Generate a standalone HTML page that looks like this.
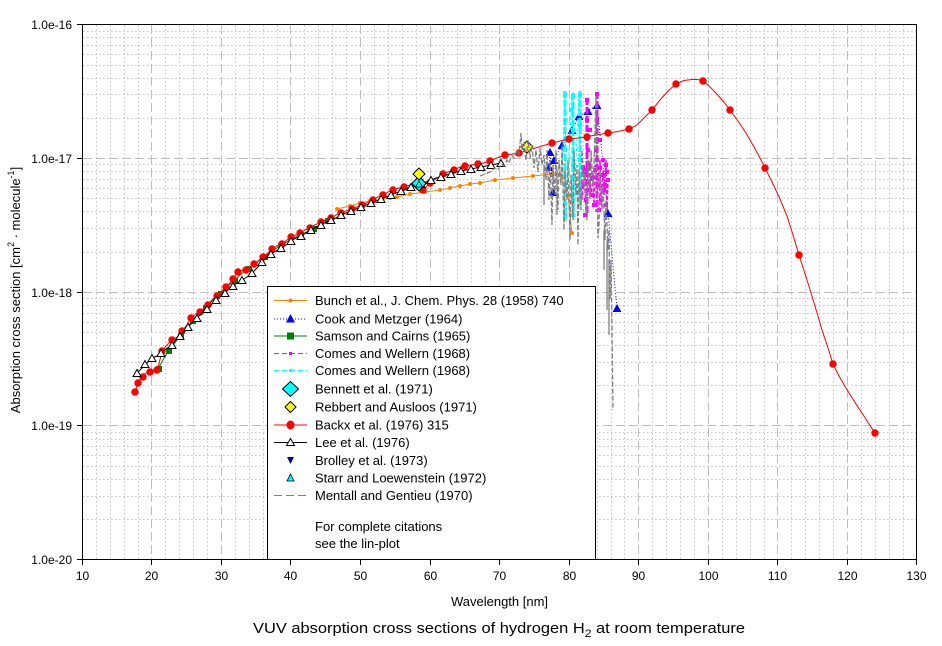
<!DOCTYPE html>
<html><head><meta charset="utf-8"><style>
html,body{margin:0;padding:0;background:#fff;}
svg{display:block;font-family:"Liberation Sans",Arial,sans-serif;}
</style></head><body>
<svg width="942" height="646" viewBox="0 0 942 646" xmlns="http://www.w3.org/2000/svg">
<defs>
<marker id="mRed" markerWidth="10" markerHeight="10" refX="5" refY="5" markerUnits="userSpaceOnUse"><circle cx="5" cy="5" r="3.7" fill="#ff0000"/></marker>
<marker id="mLee" markerWidth="12" markerHeight="12" refX="6" refY="6" markerUnits="userSpaceOnUse"><path d="M6,2.5 L10,9.5 L2,9.5 Z" fill="#fff" stroke="#000" stroke-width="1"/></marker>
<marker id="mGreen" markerWidth="8" markerHeight="8" refX="4" refY="4" markerUnits="userSpaceOnUse"><rect x="1" y="1" width="6" height="6" fill="#008000"/></marker>
<marker id="mOrange" markerWidth="6" markerHeight="6" refX="3" refY="3" markerUnits="userSpaceOnUse"><circle cx="3" cy="3" r="2" fill="#ff8000"/></marker>
<marker id="mBlue" markerWidth="12" markerHeight="12" refX="6" refY="6" markerUnits="userSpaceOnUse"><path d="M6,2 L10.5,10 L1.5,10 Z" fill="#0000ff"/></marker>
<marker id="mMag" markerWidth="6" markerHeight="6" refX="3" refY="3" markerUnits="userSpaceOnUse"><rect x="1" y="1" width="4" height="4" fill="#ff00ff"/></marker>
<marker id="mCyan" markerWidth="6" markerHeight="6" refX="3" refY="3" markerUnits="userSpaceOnUse"><rect x="1" y="1" width="4" height="4" fill="#00ffff"/></marker>
</defs>

<rect x="82.5" y="24.5" width="834" height="535" fill="#fff"/>

<path fill="none" stroke="#c4c4c4" stroke-width="1" stroke-dasharray="1.5,2.5" shape-rendering="crispEdges" d="
M96.5 25V559 M110.5 25V559 M124.5 25V559 M138.5 25V559
M165.5 25V559 M179.5 25V559 M193.5 25V559 M207.5 25V559
M235.5 25V559 M249.5 25V559 M263.5 25V559 M277.5 25V559
M304.5 25V559 M318.5 25V559 M332.5 25V559 M346.5 25V559
M374.5 25V559 M388.5 25V559 M402.5 25V559 M416.5 25V559
M443.5 25V559 M457.5 25V559 M471.5 25V559 M485.5 25V559
M513.5 25V559 M527.5 25V559 M541.5 25V559 M555.5 25V559
M583.5 25V559 M597.5 25V559 M611.5 25V559 M624.5 25V559
M652.5 25V559 M666.5 25V559 M680.5 25V559 M694.5 25V559
M722.5 25V559 M736.5 25V559 M750.5 25V559 M764.5 25V559
M791.5 25V559 M805.5 25V559 M819.5 25V559 M833.5 25V559
M861.5 25V559 M875.5 25V559 M889.5 25V559 M903.5 25V559"/>
<path fill="none" stroke="#c4c4c4" stroke-width="1" stroke-dasharray="1.5,2.5" shape-rendering="crispEdges" d="
M83 118.5H916 M83 94.5H916 M83 78.5H916 M83 65.5H916 M83 54.5H916 M83 45.5H916 M83 37.5H916 M83 31.5H916
M83 252.5H916 M83 228.5H916 M83 211.5H916 M83 198.5H916 M83 188.5H916 M83 179.5H916 M83 171.5H916 M83 164.5H916
M83 385.5H916 M83 362.5H916 M83 345.5H916 M83 332.5H916 M83 322.5H916 M83 313.5H916 M83 305.5H916 M83 298.5H916
M83 519.5H916 M83 496.5H916 M83 479.5H916 M83 466.5H916 M83 455.5H916 M83 446.5H916 M83 439.5H916 M83 432.5H916"/>
<path fill="none" stroke="#bdbdbd" stroke-width="1.3" stroke-dasharray="9,4" shape-rendering="crispEdges" d="
M151.5 25V559 M221.5 25V559 M290.5 25V559 M360.5 25V559 M430.5 25V559 M499.5 25V559
M569.5 25V559 M638.5 25V559 M708.5 25V559 M777.5 25V559 M847.5 25V559
M83 158.5H916 M83 292.5H916 M83 425.5H916"/>

<!-- Bunch (orange) -->
<polyline fill="none" stroke="#ff8000" stroke-width="1" points="337,209 350,206 360,203 370,201 380,200 390,198 397,197 410,194 425,192 440,190 450,188 460,186 470,184 480,183 495,180 513,178 533,176 552,174 560,175 568,195 572,233"/>
<polyline fill="none" stroke="none" marker-start="url(#mOrange)" marker-mid="url(#mOrange)" marker-end="url(#mOrange)" points="337,209 350,206 360,203 370,201 380,200 390,198 397,197 410,194 425,192 440,190 450,188 460,186 470,184 480,183 495,180 513,178 533,176 552,174 560,175 568,195 572,233"/>

<!-- Cook and Metzger -->
<polyline fill="none" stroke="#0000ff" stroke-width="1" stroke-dasharray="1,2" points="549,167 550,152 553,192 554,160 562,145 572,130 579,116 588,111 597,105 608,213 617,308"/>
<polyline fill="none" stroke="none" marker-start="url(#mBlue)" marker-mid="url(#mBlue)" marker-end="url(#mBlue)" points="549,167 550,152 553,192 554,160 562,145 572,130 579,116 588,111 597,105 608,213 617,308"/>

<!-- Samson and Cairns -->
<polyline fill="none" stroke="#008000" stroke-width="1" points="158,369 168,351 174,344 180,336 186,329 192,321 198,315 205,308 212,301 220,294 226,288 234,281 240,275 248,269 256,263 264,257 272,251 280,246 290,240 300,235 313,229 327,221"/>
<polyline fill="none" stroke="none" marker-start="url(#mGreen)" marker-mid="url(#mGreen)" marker-end="url(#mGreen)" points="159,369 169,351 181,336 193,321 206,308 221,294 235,281 249,269 265,257 281,246 301,235 314,229 328,221"/>

<!-- Comes magenta -->
<g stroke="#ff00ff" fill="none">
<line x1="587" y1="98" x2="587" y2="215" stroke-width="3" stroke-dasharray="7,2"/>
<line x1="597" y1="92" x2="597" y2="212" stroke-width="3" stroke-dasharray="7,2"/>
<polyline stroke-width="1.5" stroke-dasharray="4,2" points="580,175 582,200 584,165 586,210 589,160 590,195 592,170 594,205 595,165 598,190 600,160 601,205 603,170 604,195 606,160 607,210 608,178"/>
</g>
<polyline fill="none" stroke="none" marker-start="url(#mMag)" marker-mid="url(#mMag)" marker-end="url(#mMag)" points="582,185 584,172 586,200 589,165 590,190 592,178 594,205 595,170 598,185 600,168 601,200 603,175 604,190 606,165 606,205 608,180 585,215 592,195 599,210 603,160 588,150 590,130 600,140 587,100 597,94 587,120 597,120 587,170 597,160 605,185 607,172 583,168 596,150"/>

<!-- Comes cyan -->
<g stroke="#00ffff" fill="none" stroke-width="3" stroke-dasharray="7,2">
<line x1="565" y1="91" x2="565" y2="220"/>
<line x1="573" y1="93" x2="573" y2="218"/>
<line x1="580" y1="91" x2="580" y2="205"/>
</g>
<polyline fill="none" stroke="#00ffff" stroke-width="1" stroke-dasharray="3,2" points="562,175 565,92 566,222 569,150 572,92 574,220 576,160 579,92 580,210 582,170"/>
<polyline fill="none" stroke="none" marker-start="url(#mCyan)" marker-mid="url(#mCyan)" marker-end="url(#mCyan)" points="565,95 565,120 565,150 565,185 565,215 573,96 573,130 573,165 573,200 573,215 580,95 580,125 580,160 580,190 567,140 571,110"/>

<!-- Backx line -->
<polyline fill="none" stroke="#ff0000" stroke-width="1" points="135,392 138,383 142,377 146,373 150,371 154,370 158,368 162,351 167,345 172,340 177,337 182,331 187,325 191,318 196,314 201,311 206,306 210,302 214,298 218,295 222,291 226,287 230,283 233,279 236,274 240,271 245,270 250,267 254,264 258,261 263,257 267,254 272,249 277,246 282,244 287,240 291,237 296,235 300,233 305,230 310,228 315,225 321,222 326,220 331,218 336,215 341,213 346,211 352,209 357,207 362,205 367,203 373,200 378,197 383,195 388,192 393,190 399,188 404,187 410,185 423,190 430,183 437,178 443,174 448,172 454,170 460,167 465,166 471,165 478,164 484,163 490,161 497,158 505,155 519,153 552,143 569,139 587,137 590,136 608,133 618,131.5 629,129 637,125 645,117 652,110 660,100 668,91 676,84 684,80.5 692,79.5 698,79.5 703,81 709,86 716,93 723,101 730,110 738,121 746,133 754,147 760,158 765,168 772,182 780,199 787,216 793,235 799,255 807,280 815,306 822,330 828,348 833,364 839,376 846,388 854,401 862,413 869,424 875,433"/>
<polyline fill="none" stroke="none" marker-start="url(#mRed)" marker-mid="url(#mRed)" marker-end="url(#mRed)" points="135,392 138,383 143,377 150,372 157,370 162,351 172,340 182,331 191,318 200,312 208,305 217,296 226,287 233,279 238,272 246,270 254,264 263,257 272,249 282,244 291,237 300,233 310,228 321,222 331,218 341,213 352,209 362,205 373,200 383,195 393,190 404,187 423,190 430,183 443,174 454,170 465,166 478,164 490,161 505,155 519,153 552,143 569,139 587,137 608,133 629,129 652,110 676,84 703,81 730,110 765,168 799,255 833,364 875,433"/>

<!-- Lee -->
<polyline fill="none" stroke="#000" stroke-width="1" points="137,373 143,367 148,362 152,358 157,356 161,353 166,349 172,345 178,338 183,333 187,328 192,323 197,318 202,313 207,309 211,305 216,300 220,297 225,293 229,289 233,286 237,283 242,280 247,277 252,273 257,268 262,262 266,258 271,254 276,251 281,248 286,245 291,241 296,238 301,236 306,233 311,230 316,227 321,225 326,222 331,220 336,218 341,215 346,213 351,211 356,209 361,207 366,205 371,203 376,201 381,199 386,197 391,195 396,193 401,191 406,189 411,187 416,186 421,184 426,182 431,180 436,178 441,177 446,175 451,174 456,172 461,171 466,170 471,169 476,168 481,167 486,166 491,165 496,164 501,163"/>
<polyline fill="none" stroke="none" marker-start="url(#mLee)" marker-mid="url(#mLee)" marker-end="url(#mLee)" points="137,373 145,364 152,358 161,353 172,345 180,336 188,327 197,318 207,309 216,300 225,293 233,286 242,280 252,273 262,262 271,254 281,248 291,241 301,236 311,230 321,225 331,220 341,215 351,211 361,207 371,203 381,199 391,195 401,191 411,187 421,184 431,180 441,177 451,174 461,171 471,169 481,167 491,165 501,163"/>

<!-- Bennett, Starr, Rebbert -->
<path d="M419,176 L426,183.5 L419,191 L412,183.5 Z" fill="#00ffff" stroke="#000" stroke-width="1"/>
<path d="M419,181 L422.5,187 L415.5,187 Z" fill="#00ffff" stroke="#000" stroke-width="0.8"/>
<path d="M419,168 L425,174 L419,180 L413,174 Z" fill="#ffff00" stroke="#000" stroke-width="1"/>
<path d="M527,141 L533,147 L527,153 L521,147 Z" fill="#ffff00" stroke="#000" stroke-width="1"/>

<!-- Mentall and Gentieu -->
<polyline fill="none" stroke="#808080" stroke-width="1.3" stroke-dasharray="5,2" points="480,176 485,174 490,172 495,168 498,170 501,164 504,166 507,160 509,163 512,155 514,158 517,150 519,154 521,133 522,150 524,142 526,160 528,140 530,158 532,145 534,168 536,150 538,172 540,148 542,165 544,155 546,180 547,150 549,200 550,160 552,225 553,165 555,195 556,150 558,210 559,160 561,185 562,145 564,230 565,170 567,200 568,160 570,240 571,175 573,220 574,150 576,195 577,165 578,245 579,170 581,210 582,150 584,190 585,170 587,220 588,160 590,200 591,150 593,185 594,165 596,95 597,180 598,238 599,225 600,170 602,210 603,185 605,240 606,200 608,250 609,230 610,300 611,260 612,330 613,410"/>
<g stroke="#808080" stroke-width="1.3" fill="none">
<line x1="604" y1="230" x2="604" y2="270"/>
<line x1="607" y1="240" x2="607" y2="310"/>
<line x1="609" y1="260" x2="609" y2="335"/>
<line x1="544" y1="165" x2="544" y2="205"/>
<line x1="557" y1="170" x2="557" y2="215"/>
</g>

<!-- Legend -->
<rect x="267.5" y="286.5" width="328" height="273" fill="#fff" stroke="#000" stroke-width="1" shape-rendering="crispEdges"/>
<g font-size="13" fill="#000">
<line x1="274" y1="300.5" x2="307" y2="300.5" stroke="#ff8000"/>
<circle cx="290.5" cy="300.5" r="2" fill="#ff8000"/>
<text x="315" y="305">Bunch et al., J. Chem. Phys. 28 (1958) 740</text>

<line x1="274" y1="319" x2="307" y2="319" stroke="#0000ff" stroke-dasharray="1,2"/>
<path d="M290.5,314 L295,322.5 L286,322.5 Z" fill="#0000ff"/>
<text x="315" y="323.5">Cook and Metzger (1964)</text>

<line x1="274" y1="336" x2="307" y2="336" stroke="#008000"/>
<rect x="287" y="332.5" width="7" height="7" fill="#008000"/>
<text x="315" y="340.5">Samson and Cairns (1965)</text>

<line x1="274" y1="353.5" x2="307" y2="353.5" stroke="#ff00ff" stroke-dasharray="5,3"/>
<rect x="289" y="352" width="3" height="3" fill="#ff00ff"/>
<text x="315" y="358">Comes and Wellern (1968)</text>

<line x1="274" y1="370.5" x2="307" y2="370.5" stroke="#00ffff" stroke-dasharray="5,3"/>
<rect x="289" y="369" width="3" height="3" fill="#00ffff"/>
<text x="315" y="375">Comes and Wellern (1968)</text>

<path d="M290.5,381.5 L298.5,389 L290.5,396.5 L282.5,389 Z" fill="#00ffff" stroke="#000"/>
<text x="315" y="393.5">Bennett et al. (1971)</text>

<path d="M290.5,401.5 L296,407 L290.5,412.5 L285,407 Z" fill="#ffff00" stroke="#000"/>
<text x="315" y="411.5">Rebbert and Ausloos (1971)</text>

<line x1="274" y1="425" x2="307" y2="425" stroke="#ff0000"/>
<ellipse cx="290.5" cy="425" rx="4" ry="4.5" fill="#ff0000"/>
<text x="315" y="429.5">Backx et al. (1976) 315</text>

<line x1="274" y1="442.5" x2="307" y2="442.5" stroke="#000"/>
<path d="M290.5,438.5 L294.5,445.5 L286.5,445.5 Z" fill="#fff" stroke="#000"/>
<text x="315" y="447">Lee et al. (1976)</text>

<path d="M287,457 L294,457 L290.5,464 Z" fill="#000080"/>
<text x="315" y="465">Brolley et al. (1973)</text>

<path d="M290.5,474 L294,481 L287,481 Z" fill="#00ffff" stroke="#000" stroke-width="0.8"/>
<text x="315" y="482.5">Starr and Loewenstein (1972)</text>

<line x1="274" y1="495.5" x2="307" y2="495.5" stroke="#808080" stroke-dasharray="8,4"/>
<text x="315" y="500">Mentall and Gentieu (1970)</text>

<text x="315" y="531">For complete citations</text>
<text x="315" y="548">see the lin-plot</text>
</g>

<rect x="82.5" y="24.5" width="834" height="535" fill="none" stroke="#000" stroke-width="1" shape-rendering="crispEdges"/>

<path fill="none" stroke="#000" stroke-width="1" shape-rendering="crispEdges" d="
M77 24.5H83 M77 158.5H83 M77 292.5H83 M77 425.5H83 M77 559.5H83
M82.5 559V565 M151.5 559V565 M221.5 559V565 M290.5 559V565 M360.5 559V565 M430.5 559V565 M499.5 559V565
M569.5 559V565 M638.5 559V565 M708.5 559V565 M777.5 559V565 M847.5 559V565 M916.5 559V565"/>

<g font-size="12" fill="#000" text-anchor="end">
<text x="72" y="29">1.0e-16</text>
<text x="72" y="163">1.0e-17</text>
<text x="72" y="297">1.0e-18</text>
<text x="72" y="430">1.0e-19</text>
<text x="72" y="564">1.0e-20</text>
</g>
<g font-size="12" fill="#000" text-anchor="middle">
<text x="82.5" y="580">10</text>
<text x="151.5" y="580">20</text>
<text x="221.5" y="580">30</text>
<text x="290.5" y="580">40</text>
<text x="360.5" y="580">50</text>
<text x="430.5" y="580">60</text>
<text x="499.5" y="580">70</text>
<text x="569.5" y="580">80</text>
<text x="638.5" y="580">90</text>
<text x="708.5" y="580">100</text>
<text x="777.5" y="580">110</text>
<text x="847.5" y="580">120</text>
<text x="916.5" y="580">130</text>
</g>

<text x="499.5" y="606" font-size="13" text-anchor="middle" fill="#000">Wavelength [nm]</text>
<text transform="translate(20,290) rotate(-90)" font-size="13" text-anchor="middle" fill="#000">Absorption cross section [cm<tspan font-size="9" dy="-6">2</tspan><tspan dy="6"> · molecule</tspan><tspan font-size="9" dy="-6">-1</tspan><tspan dy="6">]</tspan></text>

<text x="253" y="633" font-size="15" fill="#000" textLength="492" lengthAdjust="spacingAndGlyphs">VUV absorption cross sections of hydrogen H<tspan font-size="11" dy="4">2</tspan><tspan dy="-4"> at room temperature</tspan></text>
</svg>
</body></html>
